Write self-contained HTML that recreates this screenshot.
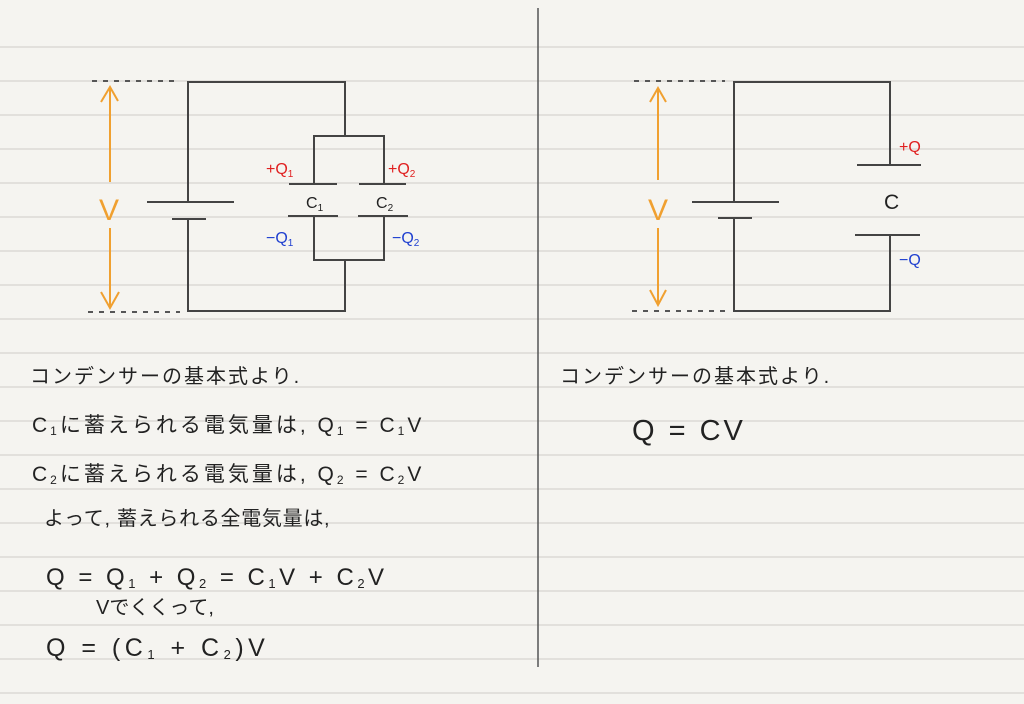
<!DOCTYPE html>
<html><head><meta charset="utf-8"><style>
body{margin:0;width:1024px;height:704px;overflow:hidden;background:#f5f4f0;}
svg{position:absolute;left:0;top:0}
text{font-family:"Liberation Sans","Noto Sans CJK JP",sans-serif;}
</style></head><body>
<svg width="1024" height="704" xmlns="http://www.w3.org/2000/svg">
<g stroke="#cfcdc8" stroke-width="1">
<line x1="0" y1="47" x2="1024" y2="47"/><line x1="0" y1="81" x2="1024" y2="81"/><line x1="0" y1="115" x2="1024" y2="115"/><line x1="0" y1="149" x2="1024" y2="149"/><line x1="0" y1="183" x2="1024" y2="183"/><line x1="0" y1="217" x2="1024" y2="217"/><line x1="0" y1="251" x2="1024" y2="251"/><line x1="0" y1="285" x2="1024" y2="285"/><line x1="0" y1="319" x2="1024" y2="319"/><line x1="0" y1="353" x2="1024" y2="353"/><line x1="0" y1="387" x2="1024" y2="387"/><line x1="0" y1="421" x2="1024" y2="421"/><line x1="0" y1="455" x2="1024" y2="455"/><line x1="0" y1="489" x2="1024" y2="489"/><line x1="0" y1="523" x2="1024" y2="523"/><line x1="0" y1="557" x2="1024" y2="557"/><line x1="0" y1="591" x2="1024" y2="591"/><line x1="0" y1="625" x2="1024" y2="625"/><line x1="0" y1="659" x2="1024" y2="659"/><line x1="0" y1="693" x2="1024" y2="693"/>
</g>
<line x1="538" y1="8" x2="538" y2="667" stroke="#555" stroke-width="1.5"/>
<g stroke="#444" stroke-width="2" fill="none">
<polyline points="188,202 188,82 345,82 345,136"/>
<polyline points="314,184 314,136 384,136 384,184"/>
<line x1="289" y1="184" x2="337" y2="184"/><line x1="359" y1="184" x2="406" y2="184"/>
<line x1="288" y1="216" x2="338" y2="216"/><line x1="358" y1="216" x2="408" y2="216"/>
<polyline points="314,216 314,260 384,260 384,216"/>
<polyline points="345,260 345,311 188,311 188,219"/>
<line x1="147" y1="202" x2="234" y2="202"/><line x1="172" y1="219" x2="206" y2="219"/>
<polyline points="734,202 734,82 890,82 890,165"/>
<line x1="857" y1="165" x2="921" y2="165"/><line x1="855" y1="235" x2="920" y2="235"/>
<polyline points="890,235 890,311 734,311 734,218"/>
<line x1="692" y1="202" x2="779" y2="202"/><line x1="718" y1="218" x2="752" y2="218"/>
</g>
<g stroke="#222" stroke-width="1.5" stroke-dasharray="5,6">
<line x1="92" y1="81" x2="180" y2="81"/><line x1="88" y1="312" x2="180" y2="312"/>
<line x1="634" y1="81" x2="725" y2="81"/><line x1="632" y1="311" x2="725" y2="311"/>
</g>
<g stroke="#f0a030" stroke-width="2" fill="none">
<line x1="110" y1="88" x2="110" y2="182"/><polyline points="101,102 110,87 118,101"/>
<line x1="110" y1="228" x2="110" y2="308"/><polyline points="101,292 110,308 119,292"/>
<line x1="658" y1="88" x2="658" y2="180"/><polyline points="650,102 658,88 666,102"/>
<line x1="658" y1="228" x2="658" y2="305"/><polyline points="650,290 658,305 666,290"/>
</g>
<text x="99" y="220" font-size="30" fill="#f0a030">V</text>
<text x="648" y="220" font-size="30" fill="#f0a030">V</text>
<g font-size="16">
<text x="266" y="174" fill="#e02020">+Q<tspan font-size="10" dy="3">1</tspan></text>
<text x="388" y="174" fill="#e02020">+Q<tspan font-size="10" dy="3">2</tspan></text>
<text x="266" y="243" fill="#2040d0">−Q<tspan font-size="10" dy="3">1</tspan></text>
<text x="392" y="243" fill="#2040d0">−Q<tspan font-size="10" dy="3">2</tspan></text>
<text x="306" y="208" fill="#222">C<tspan font-size="10" dy="3">1</tspan></text>
<text x="376" y="208" fill="#222">C<tspan font-size="10" dy="3">2</tspan></text>
<text x="899" y="152" fill="#e02020">+Q</text>
<text x="899" y="265" fill="#2040d0">−Q</text>
</g>
<text x="884" y="209" font-size="21" fill="#222">C</text>
<g fill="#222" font-size="20">
<text x="30" y="383" letter-spacing="2">コンデンサーの基本式より.</text>
<text x="32" y="432" font-size="21" letter-spacing="3">C<tspan font-size="12" dy="3">1</tspan><tspan dy="-3">に蓄えられる電気量は, Q</tspan><tspan font-size="12" dy="3">1</tspan><tspan dy="-3"> = C</tspan><tspan font-size="12" dy="3">1</tspan><tspan dy="-3">V</tspan></text>
<text x="32" y="481" font-size="21" letter-spacing="3">C<tspan font-size="12" dy="3">2</tspan><tspan dy="-3">に蓄えられる電気量は, Q</tspan><tspan font-size="12" dy="3">2</tspan><tspan dy="-3"> = C</tspan><tspan font-size="12" dy="3">2</tspan><tspan dy="-3">V</tspan></text>
<text x="44" y="525" letter-spacing="0.7">よって, 蓄えられる全電気量は,</text>
<text x="46" y="585" font-size="24" letter-spacing="3.5">Q = Q<tspan font-size="13" dy="3">1</tspan><tspan dy="-3"> + Q</tspan><tspan font-size="13" dy="3">2</tspan><tspan dy="-3"> = C</tspan><tspan font-size="13" dy="3">1</tspan><tspan dy="-3">V + C</tspan><tspan font-size="13" dy="3">2</tspan><tspan dy="-3">V</tspan></text>
<text x="96" y="614">Vでくくって,</text>
<text x="46" y="656" font-size="25" letter-spacing="4.5">Q = (C<tspan font-size="13" dy="3">1</tspan><tspan dy="-3"> + C</tspan><tspan font-size="13" dy="3">2</tspan><tspan dy="-3">)V</tspan></text>
<text x="560" y="383" letter-spacing="2">コンデンサーの基本式より.</text>
<text x="632" y="440" font-size="29" letter-spacing="3">Q = CV</text>
</g>
</svg>
</body></html>
